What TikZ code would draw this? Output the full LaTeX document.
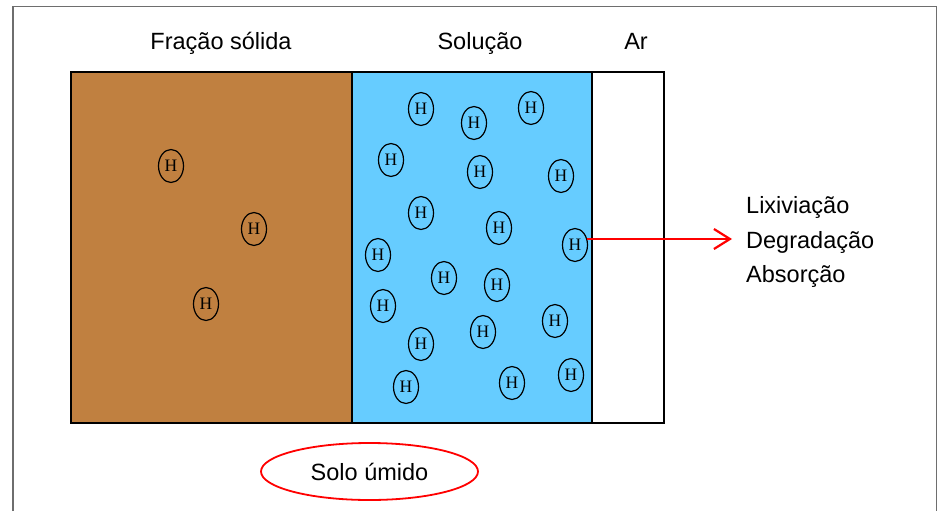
\documentclass[tikz,border=0pt]{standalone}
\usepackage{fontspec}
\setmainfont{Liberation Sans}
\newfontfamily\hfont{Liberation Serif}
\usetikzlibrary{arrows.meta,shapes.geometric}
\definecolor{soil}{RGB}{192,128,64}
\definecolor{water}{RGB}{102,204,255}
\definecolor{framegray}{RGB}{110,110,110}
\definecolor{arrowred}{RGB}{255,0,0}
\begin{document}
\begin{tikzpicture}[x=1pt,y=-1pt,
  hmol/.style={ellipse,draw=black,line width=1.2pt,inner sep=0pt,outer sep=0pt,
    minimum width=25pt,minimum height=33pt,font=\hfont\fontsize{17.5}{17.5}\selectfont},
  lbl/.style={font=\fontsize{23.5}{24}\selectfont,inner sep=0pt},
  phase/.style={draw=black,line width=1.5pt,inner sep=0pt,outer sep=0pt,anchor=north west,minimum height=351pt},
  fate/.style={draw=arrowred,line width=2.2pt,-{Straight Barb[length=16pt,width=20pt]}}]
\useasboundingbox (0,0) rectangle (944,511);
% outer frame
\draw[framegray,line width=1.5pt] (13,511) -- (13,6.5) -- (936.5,6.5) -- (936.5,511);
% phases
\node[phase,fill=soil,minimum width=281pt] (solid) at (71,72) {};
\node[phase,fill=water,minimum width=240pt] (sol) at (352,72) {};
\node[phase,fill=white,minimum width=72pt] (air) at (592,72) {};
% titles
\node[lbl,anchor=base] (tsolid) at (221,50) {Fração sólida};
\node[lbl,anchor=base] (tsol) at (480,50) {Solução};
\node[lbl,anchor=base] (tair) at (636,50) {Ar};
% H in solid fraction
\node[hmol] (s1) at (171,166) {H};
\node[hmol] (s2) at (254,229) {H};
\node[hmol] (s3) at (206,304) {H};
% H in solution
\node[hmol] (w1) at (421,109) {H};
\node[hmol] (w2) at (474,123) {H};
\node[hmol] (w3) at (531,108) {H};
\node[hmol] (w4) at (391,160) {H};
\node[hmol] (w5) at (480,172) {H};
\node[hmol] (w6) at (561,176) {H};
\node[hmol] (w7) at (421,213) {H};
\node[hmol] (w8) at (499,228) {H};
\node[hmol] (w9) at (575,245) {H};
\node[hmol] (w10) at (378,255) {H};
\node[hmol] (w11) at (444,278) {H};
\node[hmol] (w12) at (497,285) {H};
\node[hmol] (w13) at (383,306) {H};
\node[hmol] (w14) at (555,321) {H};
\node[hmol] (w15) at (483,332) {H};
\node[hmol] (w16) at (421,344) {H};
\node[hmol] (w17) at (571,375) {H};
\node[hmol] (w18) at (406,387) {H};
\node[hmol] (w19) at (512,383) {H};
% arrow
\coordinate (tip) at (732,239);
\coordinate (start) at (w9.25 |- tip);
\draw[fate] (start) -- (tip);
% fates
\node[lbl,anchor=base west] (lix) at (746,213.5) {Lixiviação};
\node[lbl,anchor=base west] (deg) at (746,248) {Degradação};
\node[lbl,anchor=base west] (abs) at (746,282.5) {Absorção};
% label ellipse
\node[ellipse,draw=arrowred,line width=1.8pt,inner sep=0pt,minimum width=217pt,minimum height=57pt,
  font=\fontsize{23.5}{24}\selectfont] (solo) at (369.5,471.5) {Solo úmido};
\end{tikzpicture}
\end{document}
